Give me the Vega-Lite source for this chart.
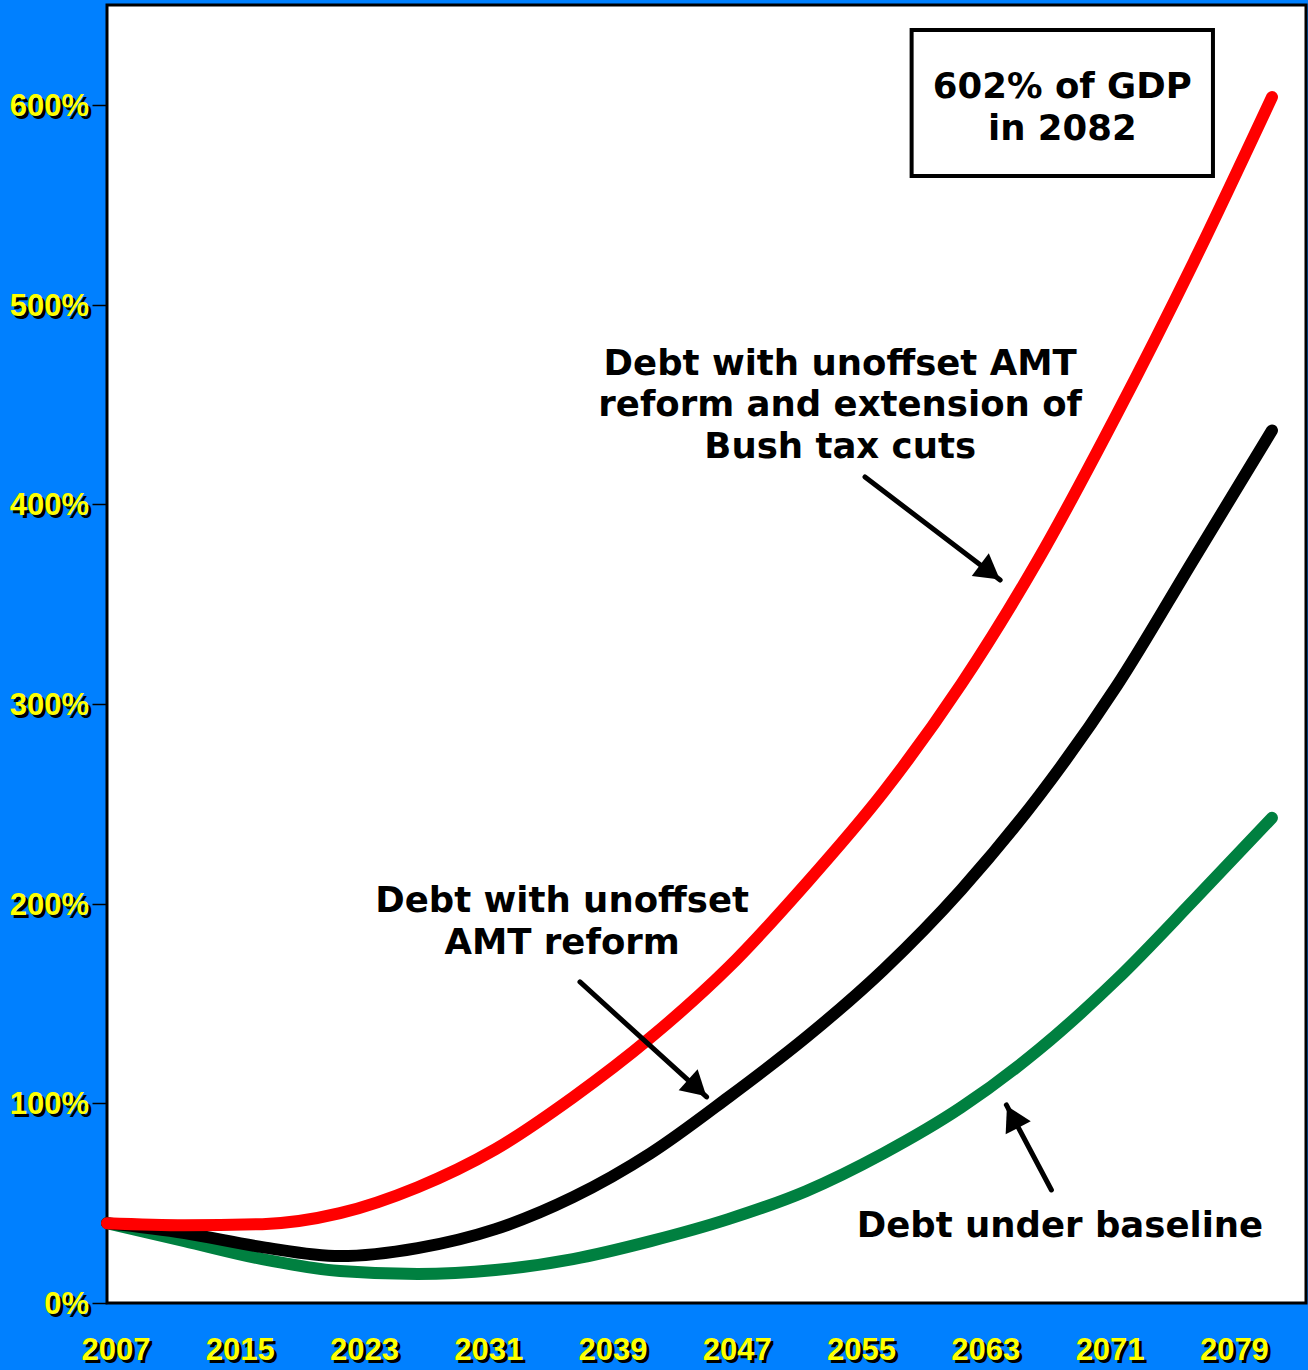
{
  "$schema": "https://vega.github.io/schema/vega-lite/v6.json",
  "width": 1199,
  "height": 1298,
  "autosize": {"type": "none"},
  "padding": {"left": 107, "top": 5, "right": 2, "bottom": 67},
  "background": "#0080FF",
  "config": {
    "view": {"fill": "white", "stroke": "black", "strokeWidth": 3},
    "font": "Liberation Sans"
  },
  "datasets": {
    "baseline": [
      {"year": 2007, "value": 40}, {"year": 2012, "value": 31}, {"year": 2017, "value": 22},
      {"year": 2022, "value": 16}, {"year": 2027, "value": 14.5}, {"year": 2032, "value": 16.5},
      {"year": 2037, "value": 22}, {"year": 2042, "value": 31}, {"year": 2047, "value": 42},
      {"year": 2052, "value": 56}, {"year": 2057, "value": 75}, {"year": 2062, "value": 98},
      {"year": 2067, "value": 127}, {"year": 2072, "value": 162}, {"year": 2077, "value": 202},
      {"year": 2082, "value": 243}
    ],
    "amt": [
      {"year": 2007, "value": 40}, {"year": 2012, "value": 35}, {"year": 2017, "value": 28},
      {"year": 2022, "value": 23.5}, {"year": 2027, "value": 27.5}, {"year": 2032, "value": 37},
      {"year": 2037, "value": 53}, {"year": 2042, "value": 75}, {"year": 2047, "value": 103},
      {"year": 2052, "value": 133}, {"year": 2057, "value": 167}, {"year": 2062, "value": 207},
      {"year": 2067, "value": 254}, {"year": 2072, "value": 309}, {"year": 2077, "value": 373},
      {"year": 2082, "value": 437}
    ],
    "amtbush": [
      {"year": 2007, "value": 40}, {"year": 2012, "value": 39}, {"year": 2017, "value": 39.5},
      {"year": 2022, "value": 45}, {"year": 2027, "value": 58}, {"year": 2032, "value": 77},
      {"year": 2037, "value": 103}, {"year": 2042, "value": 133}, {"year": 2047, "value": 168},
      {"year": 2052, "value": 210}, {"year": 2057, "value": 256}, {"year": 2062, "value": 310},
      {"year": 2067, "value": 373}, {"year": 2072, "value": 445}, {"year": 2077, "value": 522},
      {"year": 2082, "value": 604}
    ],
    "yticks": [
      {"value": 0, "label": "0%"}, {"value": 100, "label": "100%"}, {"value": 200, "label": "200%"},
      {"value": 300, "label": "300%"}, {"value": 400, "label": "400%"}, {"value": 500, "label": "500%"},
      {"value": 600, "label": "600%"}
    ],
    "xticks": [
      {"year": 2007, "label": "2007"}, {"year": 2015, "label": "2015"}, {"year": 2023, "label": "2023"},
      {"year": 2031, "label": "2031"}, {"year": 2039, "label": "2039"}, {"year": 2047, "label": "2047"},
      {"year": 2055, "label": "2055"}, {"year": 2063, "label": "2063"}, {"year": 2071, "label": "2071"},
      {"year": 2079, "label": "2079"}
    ],
    "notes": [
      {"year": 2054.2, "value": 470.3, "text": ["Debt with unoffset AMT", "reform and extension of", "Bush tax cuts"]},
      {"year": 2036.3, "value": 201.3, "text": ["Debt with unoffset", "AMT reform"]},
      {"year": 2068.35, "value": 38.6, "text": ["Debt under baseline"]},
      {"year": 2068.5, "value": 609.0, "text": ["602% of GDP", "in 2082"]}
    ],
    "box": [{"x1": 2058.8, "x2": 2078.2, "y1": 564.4, "y2": 637.6}],
    "arrows": [
      {"year": 2055.8, "value": 413.7, "year2": 2064.5, "value2": 362.1, "hx": 2063.85, "hy": 366.1, "angle": 37},
      {"year": 2037.45, "value": 160.8, "year2": 2045.6, "value2": 103.2, "hx": 2045.0, "hy": 107.7, "angle": 42},
      {"year": 2067.8, "value": 56.6, "year2": 2064.9, "value2": 99.2, "hx": 2065.3, "hy": 93.2, "angle": 242.6}
    ]
  },
  "layer": [
    {
      "data": {"name": "yticks"},
      "mark": {"type": "text", "align": "right", "baseline": "middle", "fontSize": 31, "fontWeight": "bold", "color": "black", "dx": -15, "dy": 5},
      "encoding": {
        "x": {"datum": 2007, "type": "quantitative", "scale": {"domain": [2007, 2084.19], "nice": false, "zero": false}, "axis": null},
        "y": {"field": "value", "type": "quantitative", "scale": {"domain": [0, 650.1], "nice": false, "zero": true},
              "axis": {"labels": false, "ticks": true, "tickSize": 15, "tickColor": "black", "tickWidth": 1.5, "domain": false, "grid": false, "title": null, "values": [0, 100, 200, 300, 400, 500, 600]}},
        "text": {"field": "label"}
      }
    },
    {
      "data": {"name": "yticks"},
      "mark": {"type": "text", "align": "right", "baseline": "middle", "fontSize": 31, "fontWeight": "bold", "color": "#FFFF00", "dx": -18, "dy": 2},
      "encoding": {
        "x": {"datum": 2007, "type": "quantitative"},
        "y": {"field": "value", "type": "quantitative"},
        "text": {"field": "label"}
      }
    },
    {
      "data": {"name": "xticks"},
      "mark": {"type": "text", "align": "center", "baseline": "middle", "fontSize": 31, "fontWeight": "bold", "color": "black", "dx": 12, "dy": 51},
      "encoding": {
        "x": {"field": "year", "type": "quantitative"},
        "y": {"datum": 0, "type": "quantitative"},
        "text": {"field": "label"}
      }
    },
    {
      "data": {"name": "xticks"},
      "mark": {"type": "text", "align": "center", "baseline": "middle", "fontSize": 31, "fontWeight": "bold", "color": "#FFFF00", "dx": 9, "dy": 48},
      "encoding": {
        "x": {"field": "year", "type": "quantitative"},
        "y": {"datum": 0, "type": "quantitative"},
        "text": {"field": "label"}
      }
    },
    {
      "data": {"name": "baseline"},
      "mark": {"type": "line", "color": "#008040", "strokeWidth": 12, "strokeCap": "round", "interpolate": "monotone"},
      "encoding": {"x": {"field": "year", "type": "quantitative"}, "y": {"field": "value", "type": "quantitative"}}
    },
    {
      "data": {"name": "amt"},
      "mark": {"type": "line", "color": "black", "strokeWidth": 12, "strokeCap": "round", "interpolate": "monotone"},
      "encoding": {"x": {"field": "year", "type": "quantitative"}, "y": {"field": "value", "type": "quantitative"}}
    },
    {
      "data": {"name": "amtbush"},
      "mark": {"type": "line", "color": "#FF0000", "strokeWidth": 12, "strokeCap": "round", "interpolate": "monotone"},
      "encoding": {"x": {"field": "year", "type": "quantitative"}, "y": {"field": "value", "type": "quantitative"}}
    },
    {
      "data": {"name": "box"},
      "mark": {"type": "rect", "fill": "white", "stroke": "black", "strokeWidth": 4},
      "encoding": {
        "x": {"field": "x1", "type": "quantitative"}, "x2": {"field": "x2"},
        "y": {"field": "y1", "type": "quantitative"}, "y2": {"field": "y2"}
      }
    },
    {
      "data": {"name": "notes"},
      "mark": {"type": "text", "align": "center", "baseline": "middle", "font": "DejaVu Sans", "fontSize": 35.5, "fontWeight": "bold", "color": "black", "lineHeight": 41.5},
      "encoding": {
        "x": {"field": "year", "type": "quantitative"},
        "y": {"field": "value", "type": "quantitative"},
        "text": {"field": "text"}
      }
    },
    {
      "data": {"name": "arrows"},
      "mark": {"type": "rule", "color": "black", "strokeWidth": 5, "strokeCap": "round"},
      "encoding": {
        "x": {"field": "year", "type": "quantitative"}, "x2": {"field": "year2"},
        "y": {"field": "value", "type": "quantitative"}, "y2": {"field": "value2"}
      }
    },
    {
      "data": {"name": "arrows"},
      "mark": {"type": "point", "shape": "triangle-right", "filled": true, "color": "black", "size": 800, "opacity": 1},
      "encoding": {
        "x": {"field": "hx", "type": "quantitative"},
        "y": {"field": "hy", "type": "quantitative"},
        "angle": {"field": "angle", "type": "quantitative", "scale": null}
      }
    }
  ]
}
